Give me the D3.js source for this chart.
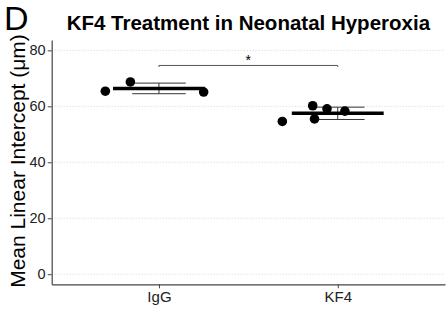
<!DOCTYPE html>
<meta charset="utf-8">
<style>
    body { margin: 0; background: #fff; }
    svg { font-family: "Liberation Sans", Arial, sans-serif; }
    .grid line { stroke: #d4d4d4; stroke-dasharray: 1,2; }
    .axis path, .axis line { stroke: #444; }
    .axis text { fill: #222; }
</style>
<svg width="446" height="309"></svg>
<script src="https://d3js.org/d3.v7.min.js"></script>
<script>

    // data
    var groups = ["IgG", "KF4"];
    var igg = [65.4, 68.7, 65.1];
    var kf4 = [54.6, 60.2, 55.5, 59.1, 58.3];
    var iggJitter = [-0.30, -0.16, 0.25];
    var kf4Jitter = [-0.31, -0.14, -0.13, -0.06, 0.04];
    var means = [66.4, 57.5];
    var sds = [1.9, 2.2];
    var yTicks = [0, 20, 40, 60, 80];
    var sigY = 74.6;

    var svg = d3.select("svg"),
        margin = {top: 40, right: 1, bottom: 24.7, left: 51.7},
        width = +svg.attr("width") - margin.left - margin.right,
        height = +svg.attr("height") - margin.top - margin.bottom;

    var x = d3.scalePoint().domain(groups).range([0, width]).padding(0.6),
        y = d3.scaleLinear().domain([-3.6, 83.7]).range([height, 0]);
    var unit = x.step();

    var g = svg.append("g")
        .attr("transform", "translate(" + margin.left + "," + margin.top + ")");

    // dotted horizontal grid
    g.append("g").attr("class", "grid")
        .selectAll("line").data(yTicks).enter().append("line")
        .attr("x1", 0).attr("x2", width)
        .attr("y1", function(d) { return y(d); })
        .attr("y2", function(d) { return y(d); });

    g.append("g")
        .attr("class", "axis axis--x")
        .attr("transform", "translate(0," + height + ")")
        .call(d3.axisBottom(x).tickSize(4).tickSizeOuter(0).tickPadding(3))
        .call(function(a) { a.selectAll("text").attr("font-size", 15); });

    g.append("g")
        .attr("class", "axis axis--y")
        .call(d3.axisLeft(y).tickValues(yTicks).tickSize(4).tickSizeOuter(0).tickPadding(2))
        .call(function(a) { a.selectAll("text").attr("font-size", 14.5); });
    g.selectAll(".axis path").attr("stroke-width", 1.2);

    // error bars (mean +- sd)
    var summ = groups.map(function(k, i) { return {g: k, m: means[i], s: sds[i]}; });
    var eb = g.append("g").attr("stroke", "#333").attr("stroke-width", 1);
    summ.forEach(function(d) {
        var cx = x(d.g), hw = 0.15 * unit;
        eb.append("line").attr("x1", cx).attr("x2", cx).attr("y1", y(d.m + d.s)).attr("y2", y(d.m - d.s));
        eb.append("line").attr("x1", cx - hw).attr("x2", cx + hw).attr("y1", y(d.m + d.s)).attr("y2", y(d.m + d.s));
        eb.append("line").attr("x1", cx - hw).attr("x2", cx + hw).attr("y1", y(d.m - d.s)).attr("y2", y(d.m - d.s));
    });

    // mean bars
    g.selectAll(".mean").data(summ).enter().append("line")
        .attr("class", "mean")
        .attr("x1", function(d) { return x(d.g) - 0.257 * unit; })
        .attr("x2", function(d) { return x(d.g) + 0.257 * unit; })
        .attr("y1", function(d) { return y(d.m); })
        .attr("y2", function(d) { return y(d.m); })
        .attr("stroke", "#000").attr("stroke-width", 3.5);

    // points
    var pts = igg.map(function(v, i) { return {g: "IgG", v: v, j: iggJitter[i]}; })
        .concat(kf4.map(function(v, i) { return {g: "KF4", v: v, j: kf4Jitter[i]}; }));
    g.selectAll(".pt").data(pts).enter().append("circle")
        .attr("class", "pt")
        .attr("cx", function(d) { return x(d.g) + d.j * unit; })
        .attr("cy", function(d) { return y(d.v); })
        .attr("r", 4.8)
        .attr("fill", "#000");

    // significance bracket
    g.append("path")
        .attr("d", "M" + x("IgG") + "," + (y(sigY) + 1.5) + "V" + y(sigY) + "H" + x("KF4") + "V" + (y(sigY) + 1.5))
        .attr("fill", "none").attr("stroke", "#555").attr("stroke-width", 1);
    g.append("text")
        .attr("x", (x("IgG") + x("KF4")) / 2).attr("y", y(sigY) - 0.5)
        .attr("text-anchor", "middle").attr("font-size", 14)
        .text("*");

    // titles
    svg.append("text")
        .attr("x", margin.left + width / 2).attr("y", 30)
        .attr("text-anchor", "middle").attr("font-size", 20.5).attr("font-weight", "bold")
        .text("KF4 Treatment in Neonatal Hyperoxia");
    svg.append("text")
        .attr("x", 4).attr("y", 30)
        .attr("font-size", 34)
        .text("D");
    svg.append("text")
        .attr("transform", "translate(25," + 161 + ") rotate(-90)")
        .attr("text-anchor", "middle").attr("font-size", 21)
        .text("Mean Linear Intercept (μm)");
</script>
